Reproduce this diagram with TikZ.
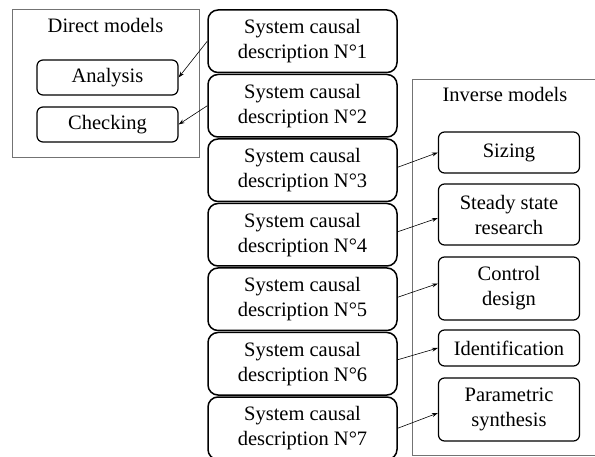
\documentclass[tikz,border=0pt]{standalone}
\usepackage{fontspec}
\setmainfont{Liberation Serif}
\usetikzlibrary{arrows.meta}
\begin{document}
\begin{tikzpicture}[x=1pt,y=-1pt,
  txt/.style={font=\fontsize{20.5}{25}\selectfont, align=center, inner sep=0pt},
  sysbox/.style={txt, draw, line width=1.5pt, rounded corners=10pt, minimum width=189pt, minimum height=62.5pt},
  smallbox/.style={txt, draw, line width=1.2pt, rounded corners=6pt, minimum width=141pt},
  outerbox/.style={draw=black!55, line width=0.9pt},
  arr/.style={-{Stealth[length=6pt,width=4pt]}, line width=0.6pt}
]
\useasboundingbox (0,0) rectangle (595,457);
% outer frames
\draw[outerbox] (12,9) rectangle (199,157);
\draw[outerbox] (600,79) -- (412,79) -- (412,455) -- (600,455);
\node[txt, anchor=base] (dm) at (105.5,33) {Direct models};
\node[txt, anchor=base] (im) at (505,101.5) {Inverse models};
% system descriptions
\foreach \i [evaluate=\i as \yy using {41.25+(\i-1)*64.5}] in {1,...,7}{
  \node[sysbox] (s\i) at (302.5,\yy) {System causal\\description N°\i};
}
% direct models
\node[smallbox, minimum height=35pt] (an) at (107.5,77.5) {Analysis};
\node[smallbox, minimum height=35pt] (ch) at (107.5,124.5) {Checking};
% inverse models
\node[smallbox, minimum height=41pt] (sz) at (509,152.5) {Sizing};
\node[smallbox, minimum height=61pt] (ss) at (509,214.5) {Steady state\\research};
\node[smallbox, minimum height=63pt] (cd) at (509,288.5) {Control\\design};
\node[smallbox, minimum height=36pt] (id) at (509,348) {Identification};
\node[smallbox, minimum height=63pt] (ps) at (509,409.5) {Parametric\\synthesis};
% arrows
\draw[arr] (s1.west) -- (an.east);
\draw[arr] (s2.west) -- (ch.east);
\draw[arr] (s3.east) ++(0,-3) -- (sz.west);
\draw[arr] (s4.east) ++(0,-3) -- ([yshift=-3.5pt]ss.west);
\draw[arr] (s5.east) ++(0,-2) -- ([yshift=5pt]cd.west);
\draw[arr] (s6.east) ++(0,-4) -- (id.west);
\draw[arr] (s7.east) -- ([yshift=-3.5pt]ps.west);
\end{tikzpicture}
\end{document}
